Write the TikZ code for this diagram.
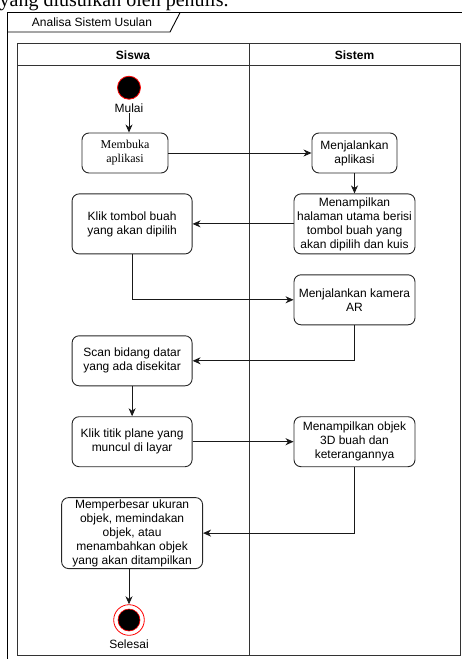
\documentclass[tikz,border=0pt]{standalone}
\usepackage{fontspec}
\setmainfont{Liberation Sans}
\newfontfamily\serifface{Liberation Serif}
\usepackage{tikz}
\usetikzlibrary{positioning, arrows.meta, calc}
\newlength{\Corner}
\setlength\Corner{7pt}

\begin{document}
\begin{tikzpicture}[
    x = 1pt, y = -1pt, align = center,
    font = \fontsize{12}{14}\selectfont,
    activity/.style = {
      rectangle, draw = black!85, line width = 0.9pt, rounded corners = \Corner,
      inner sep = 0pt
    },
    initial/.style = {
      circle, draw = red, fill = black, line width = 0.8pt,
      inner sep = 0pt, minimum size = 23pt
    },
    final/.style = {
      circle, draw = red, fill = white, line width = 0.8pt,
      inner sep = 0pt, minimum size = 30.6pt,
      path picture = {
        \draw [red, fill = black, line width = 0.6pt]
          (path picture bounding box.center) circle [radius = 11pt];
      }
    },
    flow/.style = {
      -{Stealth[length = 8pt, width = 7pt, inset = 2.5pt]},
      line width = 0.9pt, draw = black!90
    },
    lane/.style = {
      draw = black!80, line width = 0.9pt
    },
    header/.style = {
      font = \fontsize{12}{14}\selectfont\bfseries, inner sep = 0pt
    },
    tag/.style = {
      inner sep = 0pt
    },
    ]
\useasboundingbox  (0,0)  rectangle  (462,659);

% caption line cut at the top
\node  [tag, anchor = base west, font = \serifface\fontsize{20}{24}\selectfont]  (caption)  at  (-0.5,6.7)  {yang diusulkan oleh penulis.};

% frame and lanes
\draw  [line width = 0.9pt]  (7,680)  --  (7,12.7)  --  (480,12.7);
\draw  [line width = 0.9pt]  (7,32)  --  (170,32)  --  (180,12.7);
\node  [tag]  (frame_title)  at  (92,22)  {Analisa Sistem Usulan};
\draw  [lane]  (17.3,43.3)  rectangle  (460,655);
\draw  [lane]  (17.3,65.7)  --  (460,65.7);
\draw  [lane]  (249,43.3)  --  (249,655);
\node  [header]  (siswa)  at  (133,55)  {Siswa};
\node  [header]  (sistem)  at  (354.5,55)  {Sistem};

% activities
\node  [initial]  (start)  at  (129,87.7)  {};
\node  [tag]  (mulai)  [below = 4pt of start]  {Mulai};
\node  [activity, minimum width = 86pt, minimum height = 40pt, font = \serifface\fontsize{12}{14}\selectfont]  (membuka)  at  (125,153)  {Membuka\\aplikasi};
\node  [activity, minimum width = 85pt, minimum height = 40pt]  (jalan_app)  at  (354.5,153)  {Menjalankan\\aplikasi};
\node  [activity, minimum width = 121pt, minimum height = 60pt]  (halaman)  [below = 20pt of jalan_app]  {Menampilkan\\halaman utama berisi\\tombol buah yang\\akan dipilih dan kuis};
\node  [activity, minimum width = 120pt, minimum height = 60pt]  (klik_buah)  [left = 101pt of halaman]  {Klik tombol buah\\yang akan dipilih};
\node  [activity, minimum width = 121pt, minimum height = 50pt]  (kamera)  [below = 20pt of halaman]  {Menjalankan kamera\\AR};
\node  [activity, minimum width = 120pt, minimum height = 50pt]  (scan)  [below = 81pt of klik_buah]  {Scan bidang datar\\yang ada disekitar};
\node  [activity, minimum width = 120pt, minimum height = 50pt]  (klik_plane)  [below = 30pt of scan]  {Klik titik plane yang\\muncul di layar};
\node  [activity, minimum width = 121pt, minimum height = 50pt]  (objek)  [right = 101pt of klik_plane]  {Menampilkan objek\\3D buah dan\\keterangannya};
\node  [activity, minimum width = 141pt, minimum height = 71pt]  (perbesar)  [below = 30pt of klik_plane]  {Memperbesar ukuran\\objek, memindakan\\objek, atau\\menambahkan objek\\yang akan ditampilkan};
\node  [final]  (stop)  at  (129,620)  {};
\node  [tag]  (selesai)  [below = 4pt of stop]  {Selesai};

% flows
\draw  [flow]  (mulai)  --  (mulai |- membuka.north);
\draw  [flow]  (membuka)  --  (jalan_app);
\draw  [flow]  (jalan_app)  --  (halaman);
\draw  [flow]  (halaman)  --  (klik_buah);
\draw  [flow]  (klik_buah)  |-  (kamera);
\draw  [flow]  (kamera)  |-  (scan);
\draw  [flow]  (scan)  --  (klik_plane);
\draw  [flow]  (klik_plane)  --  (objek);
\draw  [flow]  (objek)  |-  (perbesar);
\draw  [flow]  (perbesar.south -| stop)  --  (stop);

\end{tikzpicture}
\end{document}
